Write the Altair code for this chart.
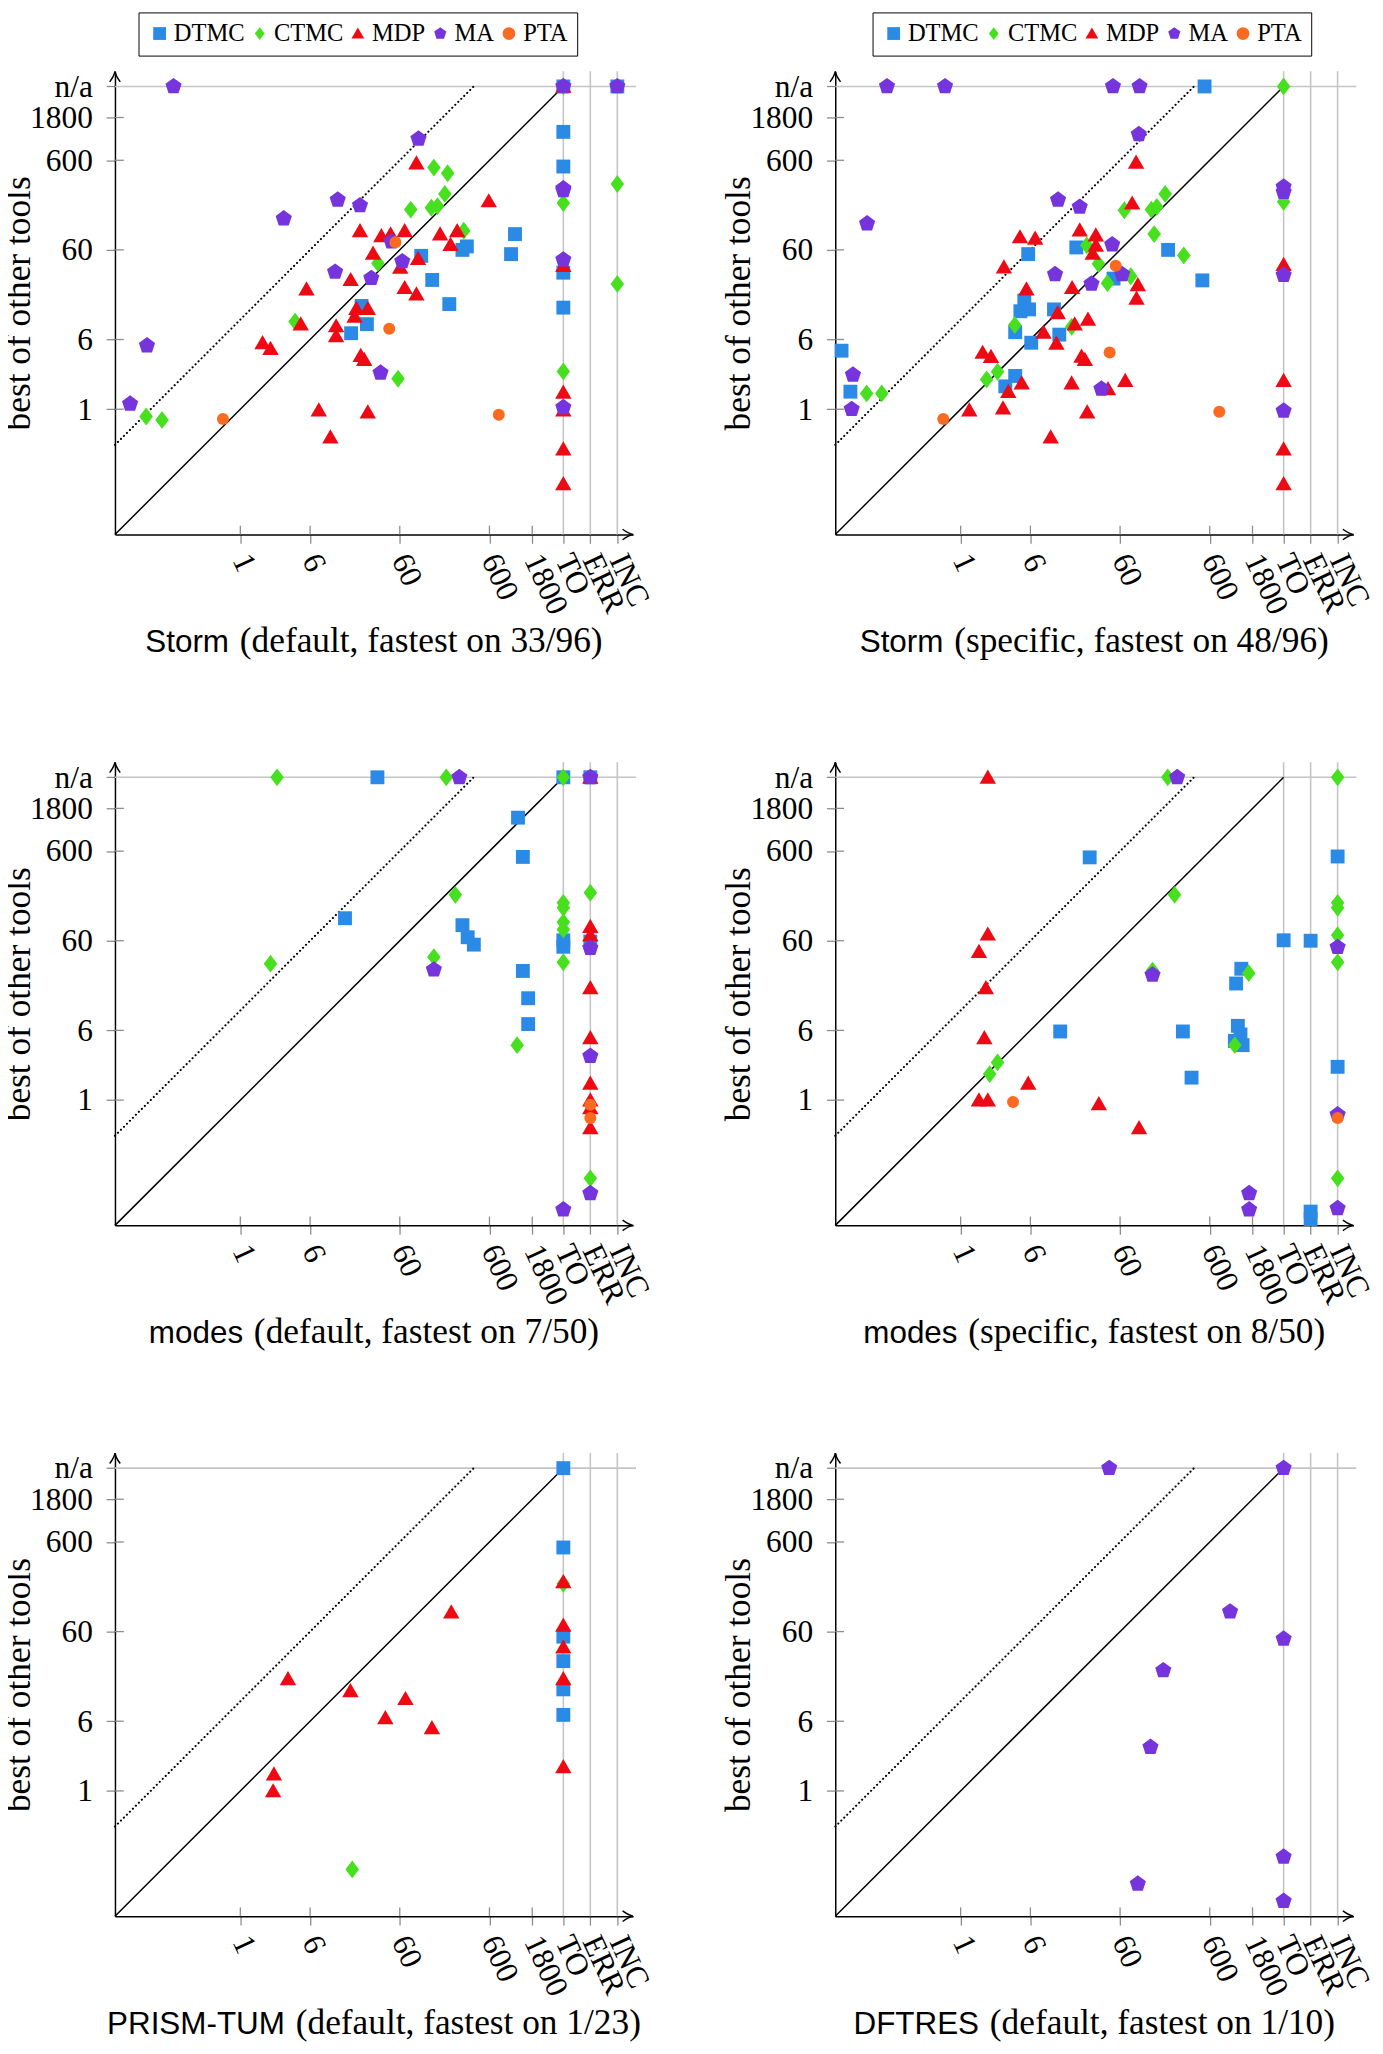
import altair as alt
import pandas as pd

TYPES = ["DTMC", "CTMC", "MDP", "MA", "PTA"]
COLORS = ["#2b8ae6", "#46e01e", "#ee0a14", "#7634dc", "#fa6a20"]

# ---------------- data (seconds; "TO"/"ERR"/"INC" on x, "n/a" on y) ----------------
# Panel 1: Storm (default)
S1_DTMC_X = ["TO", "INC", "TO", "TO", "TO", "TO", 1156, 1045, 336, 300, 104, 138, 214, 22.5, 25.8, 17.2]
S1_DTMC_Y = ["n/a", "n/a", 1245, 511, 33.4, 13.6, 90, 53.8, 65.6, 60, 51.5, 27.7, 14.9, 14.2, 8.9, 7.05]
S1_CTMC_X = [144, 205, 191, 79.5, 135, 158, 310, 34.2, 4.08, 57.4, 0.089, 0.134, "TO", "TO", "TO", "INC", "INC"]
S1_CTMC_Y = [497, 430, 253, 169, 177, 185, 98, 42.6, 9.5, 2.19, 0.83, 0.76, "n/a", 200, 2.64, 326, 25]
S1_MDP_X = [92, 589, 21.6, 37.4, 47.4, 68, 169, 262, 221, 30.2, 60.7, 96, 17, 5.47, 68, 92, 19.7, 26.4,
            18.8, 4.72, 11.7, 11.7, 1.77, 2.17, 22, 24.1, 7.5, 26.4, 10.1, "TO", "TO", "TO", "TO", "TO", "TO"]
S1_MDP_Y = [559, 211, 98, 86, 90, 98, 90, 98, 68.7, 54.8, 38.3, 47.9, 27.9, 21.9, 22.7, 19.3, 13.3, 13.3,
            10.9, 8.9, 8.5, 6.6, 5.5, 4.74, 3.96, 3.59, 0.98, 0.93, 0.49, "n/a", 40, 1.54, 0.98, 0.36, 0.147]
S1_MA_X = [0.18, "TO", "INC", 97, 12.2, 21.6, 3.05, 48.5, 64, 11.4, 28.9, 0.091, 0.059, 36.6, "TO", "TO", "TO", "TO"]
S1_MA_Y = ["n/a", "n/a", "n/a", 1040, 217, 188, 134, 74, 44.6, 34, 29, 5.14, 1.15, 2.55, 290, 276, 46.7, 1.05]
S1_PTA_X = [53.6, 45.8, 0.64, 763]
S1_PTA_Y = [73, 7.9, 0.78, 0.87]

# Panel 2: Storm (specific)
S2_DTMC_X = [525, 0.047, 0.059, 19.5, 5.67, 206, 496, 50.7, 5.13, 4.64, 5.8, 11, 4.06, 12.6, 6.13, 4.06, 3.15]
S2_DTMC_Y = ["n/a", 4.5, 1.57, 63.9, 53.8, 60, 27.4, 28.7, 16.3, 12.4, 13, 13, 7.24, 6.8, 5.52, 2.35, 1.8]
S2_CTMC_X = ["TO", "TO", 191, 67, 134, 154, 144, 25.5, 34.4, 308, 79, 43.4, 17.3, 4.02, 1.95, 2.58, 0.0895, 0.132]
S2_CTMC_Y = ["n/a", 206, 253, 166, 169, 181, 90, 67.4, 41.9, 52, 30.5, 25.5, 8.3, 8.7, 2.15, 2.62, 1.5, 1.5]
S2_MDP_X = [90.5, 81.9, 21.3, 32.2, 32.2, 29.7, 4.59, 6.78, 3.04, 5.42, 17.5, 94.6, 91.5, 12.1, 26.3, 18.7,
            8.4, 11.7, 1.76, 2.18, 22.3, 24.3, 4.8, 3.4, 17.3, 68.5, 44, 1.25, 2.97, 25.8, 10.1,
            "TO", "TO", "TO", "TO"]
S2_MDP_Y = [569, 199, 100, 88, 67.4, 54.8, 83.7, 80.7, 38.6, 21.9, 22.7, 24.4, 17.3, 11.9, 10.1, 8.9,
            7.2, 5.43, 4.3, 3.86, 3.89, 3.59, 1.96, 1.57, 1.96, 2.09, 1.69, 0.98, 1.03, 0.93, 0.49,
            41.1, 2.09, 0.36, 0.147]
S2_MA_X = [0.151, 0.67, 50, 99, 97, 12.2, 21.3, 0.0905, 49, 11.3, 28.8, 63.4, 37.2, 0.063, 0.061, "TO", "TO", "TO", "TO"]
S2_MA_Y = ["n/a", "n/a", "n/a", "n/a", 1169, 217, 181, 118, 68.7, 32, 25.1, 32, 1.69, 2.42, 1, 303, 265, 31.4, 0.96]
S2_PTA_X = [53.6, 45.9, 0.64, 766]
S2_PTA_Y = [40, 4.3, 0.78, 0.94]

# Panel 3: modes (default)
M1_DTMC_X = [33.8, "TO", "ERR", 14.7, 1250, 1415, 300, 343, 402, 1415, 1622, 1622, "TO", "TO", "ERR"]
M1_DTMC_Y = ["n/a", "n/a", "n/a", 107, 1418, 517, 89.5, 65.6, 54.3, 27.6, 13.7, 7.05, 60.7, 51.4, 58.7]
M1_CTMC_X = [2.57, 198, "TO", 2.17, 144, 250, 1222, "TO", "TO", "TO", "TO", "TO", "ERR", "ERR"]
M1_CTMC_Y = ["n/a", "n/a", "n/a", 33.3, 39.4, 195, 4.1, 159, 140, 97, 80, 34.5, 206, 0.134]
M1_MDP_X = ["ERR", "ERR", "ERR", "ERR", "ERR", "ERR", "ERR", "ERR", "ERR"]
M1_MDP_Y = ["n/a", 86.5, 69.3, 17.9, 4.94, 1.54, 1, 0.82, 0.49]
M1_MA_X = [277, "ERR", 144, "ERR", "ERR", "ERR", "TO"]
M1_MA_Y = ["n/a", "n/a", 28.5, 49.7, 3.1, 0.091, 0.06]
M1_PTA_X = ["ERR", "ERR"]
M1_PTA_Y = [0.885, 0.63]

# Panel 4: modes (specific)
M2_DTMC_X = [27.5, 12.9, 301, 376, 1349, 1181, 1235, 1321, 1143, 1396, "TO", "ERR", "ERR", "ERR", "INC", "INC"]
M2_DTMC_Y = [511, 5.83, 5.83, 1.78, 29.2, 20, 6.74, 5.4, 4.57, 4.1, 60.7, 60, 0.057, 0.047, 523, 2.35]
M2_CTMC_X = [204, "INC", 243, 138, 1632, 1143, 2.58, 2.11, "INC", "INC", "INC", "INC", "INC"]
M2_CTMC_Y = ["n/a", "n/a", 195, 27.9, 26.1, 4.1, 2.63, 1.95, 159, 140, 69.3, 34.5, 0.134]
M2_MDP_X = [2.01, 2.01, 1.6, 1.91, 1.84, 5.67, 1.6, 2.01, 34.8, 97.7]
M2_MDP_Y = ["n/a", 71, 45.5, 17.9, 4.94, 1.54, 1, 1, 0.91, 0.49]
M2_MA_X = [260, 138, 1650, 1650, "INC", "INC", "INC"]
M2_MA_Y = ["n/a", 25, 0.091, 0.06, 50.8, 0.69, 0.062]
M2_PTA_X = [3.84, "INC"]
M2_PTA_Y = [0.95, 0.63]

# Panel 5: PRISM-TUM (default)
P_DTMC_X = ["TO", "TO", "TO", "TO", "TO", "TO"]
P_DTMC_Y = ["n/a", 521, 52.7, 28.1, 13.6, 7.06]
P_CTMC_X = [17.7, "TO"]
P_CTMC_Y = [0.133, 205]
P_MDP_X = [2.37, 2.32, 3.4, 16.9, 41.4, 69.4, 137, 225, "TO", "TO", "TO", "TO", "TO"]
P_MDP_Y = [1.54, 1, 17.8, 13.1, 6.55, 10.7, 5.05, 99, 216, 70.6, 40.2, 17.8, 1.86]

# Panel 6: DFTRES (default)
D_MA_X = [45.4, "TO", 1011, "TO", 182, 131, "TO", 94.6, "TO"]
D_MA_Y = ["n/a", "n/a", 100, 49.9, 22.1, 3.09, 0.184, 0.092, 0.059]

X_TICKS = [1, 6, 60, 600, 1800, "TO", "ERR", "INC"]
Y_TICKS = [1, 6, 60, 600, 1800, "n/a"]

# ---------------- layout / style ----------------
SPECIAL = {"TO": 4000.0, "ERR": 8000.0, "INC": 16000.0, "n/a": 4000.0}
W, H = 528, 472
SERIF = "Liberation Serif"
SANS = "Liberation Sans"

DIAMOND = "M0,-1L0.76,0L0,1L-0.76,0Z"
TRIANGLE = "M0,-0.95L1,0.78L-1,0.78Z"
PENTAGON = "M0,-1L0.951,-0.309L0.588,0.809L-0.588,0.809L-0.951,-0.309Z"
SHAPES = ["square", DIAMOND, TRIANGLE, PENTAGON, "circle"]
SIZES = {"DTMC": 200, "CTMC": 330, "MDP": 280, "MA": 300, "PTA": 150}

ARROW_UP = "M-0.45,0.9Q-0.05,0.35,0,0Q0.05,0.35,0.45,0.9"
ARROW_RIGHT = "M-0.9,-0.45Q-0.35,-0.05,0,0Q-0.35,0.05,-0.9,0.45"

TIMES_W = {'(': .333, ')': .333, ',': .25, ' ': .25, '/': .278, 'a': .444, 'c': .444, 'd': .5,
           'e': .444, 'f': .333, 'i': .278, 'l': .278, 'n': .5, 'o': .5, 'p': .5, 's': .389,
           't': .278, 'u': .5}
ARIAL_W = {'S': .667, 't': .278, 'o': .556, 'r': .333, 'm': .833, 'd': .556, 'e': .556, 's': .5,
           'P': .667, 'R': .722, 'I': .278, 'M': .833, '-': .333, 'T': .611, 'U': .722, 'D': .722,
           'F': .611, 'E': .667}

SANS_SIZE = 32
SERIF_TITLE_SIZE = 36


def text_w(s, table, size):
    return sum(table.get(c, 0.5) for c in s) * size


def pos(v):
    return SPECIAL[v] if isinstance(v, str) else float(v)


XS = alt.Scale(type="log", domain=[0.04, 24000], nice=False)
YS = alt.Scale(type="log", domain=[0.04, 5900], nice=False)

XAXIS = alt.Axis(
    values=[pos(v) for v in X_TICKS],
    labelExpr="datum.value > 12000 ? 'INC' : datum.value > 6000 ? 'ERR' : datum.value > 3000 ? 'TO' : format(datum.value, 'd')",
    labelAngle=65, labelAlign="left", labelBaseline="middle", labelFont=SERIF, labelFontSize=32,
    labelColor="black", labelPadding=12, labelOverlap=False, labelFlush=False,
    tickSize=9, tickColor="#8c8c8c", tickWidth=1.3, domainColor="black", domainWidth=1.5,
    grid=False, title=None,
)
YAXIS = alt.Axis(
    values=[pos(v) for v in Y_TICKS],
    labelExpr="datum.value > 3000 ? 'n/a' : format(datum.value, 'd')",
    labelFont=SERIF, labelFontSize=32, labelColor="black", labelPadding=14, labelOverlap=False,
    labelFlush=False, tickSize=9, tickColor="#8c8c8c", tickWidth=1.3, domainColor="black",
    domainWidth=1.5, grid=False, title="best of other tools", titleFont=SERIF, titleFontSize=36,
    titleFontWeight="normal", titleColor="black", titleX=-87, titleY=H / 2, titleAngle=270,
    titleAlign="center", titleBaseline="alphabetic",
)


def xenc(field):
    return alt.X(field, type="quantitative", scale=XS, axis=XAXIS)


def yenc(field):
    return alt.Y(field, type="quantitative", scale=YS, axis=YAXIS)


def frame(series):
    rows = []
    for t, xs, ys in series:
        for a, b in zip(xs, ys):
            rows.append({"x": pos(a), "y": pos(b), "type": t, "sz": SIZES[t]})
    return pd.DataFrame(rows)


def panel(series, tool, rest, legend_x=None):
    df = frame(series)
    leg = None
    if legend_x is not None:
        leg = alt.Legend(orient="none", legendX=legend_x, legendY=-60, direction="horizontal", columns=5,
                         title=None, labelFont=SERIF, labelFontSize=25, labelColor="black",
                         symbolSize=170, symbolStrokeWidth=0, symbolOpacity=1, strokeColor="black",
                         fillColor="white", padding=9, columnPadding=2, labelOffset=2, labelLimit=0,
                         gridAlign="none")
    color = alt.Color("type:N", scale=alt.Scale(domain=TYPES, range=COLORS), legend=leg)
    shape = alt.Shape("type:N", scale=alt.Scale(domain=TYPES, range=SHAPES), legend=leg)

    vgrid = alt.Chart(pd.DataFrame({"v": [pos(v) for v in ["TO", "ERR", "INC"]]})).mark_rule(
        color="#c4c4c4", strokeWidth=1.6).encode(x=xenc("v"), y=alt.value(0), y2=alt.value(H))
    hgrid = alt.Chart(pd.DataFrame({"v": [pos("n/a")]})).mark_rule(
        color="#c4c4c4", strokeWidth=1.6).encode(y=yenc("v"), x=alt.value(0), x2=alt.value(W + 3))
    xin = alt.Chart(pd.DataFrame({"v": [float(v) for v in X_TICKS if not isinstance(v, str)]})).mark_rule(
        color="#8c8c8c", strokeWidth=1.3).encode(x=xenc("v"), y=alt.value(H - 9), y2=alt.value(H))
    yin = alt.Chart(pd.DataFrame({"v": [float(v) for v in Y_TICKS if not isinstance(v, str)]})).mark_rule(
        color="#8c8c8c", strokeWidth=1.3).encode(y=yenc("v"), x=alt.value(0), x2=alt.value(9))
    diag = alt.Chart(pd.DataFrame({"a": [0.04, pos("TO")], "b": [0.04, pos("n/a")]})).mark_line(
        color="black", strokeWidth=1.5).encode(x=xenc("a"), y=yenc("b"))
    dotted = alt.Chart(pd.DataFrame({"a": [0.04, pos("n/a") / 10], "b": [0.4, pos("n/a")]})).mark_line(
        color="black", strokeWidth=2.1, strokeDash=[0.1, 4.2], strokeCap="round").encode(
        x=xenc("a"), y=yenc("b"))
    pts = alt.Chart(df).mark_point(filled=True, opacity=1, strokeWidth=0).encode(
        x=xenc("x"), y=yenc("y"), color=color, shape=shape, size=alt.Size("sz:Q", scale=None))
    one = pd.DataFrame({"k": [0]})
    arr_up = alt.Chart(one).mark_point(shape=ARROW_UP, size=566, filled=False, color="black",
                                       strokeWidth=1.5, opacity=1).encode(x=alt.value(0), y=alt.value(0))
    arr_rt = alt.Chart(one).mark_point(shape=ARROW_RIGHT, size=566, filled=False, color="black",
                                       strokeWidth=1.5, opacity=1).encode(x=alt.value(W), y=alt.value(H))
    ws = text_w(tool, ARIAL_W, SANS_SIZE)
    wr = text_w(rest, TIMES_W, SERIF_TITLE_SIZE)
    gap = 11
    left = W / 2 - (ws + gap + wr) / 2
    t1 = alt.Chart(one).mark_text(font=SANS, fontSize=SANS_SIZE, align="right", baseline="alphabetic",
                                  color="black", text=tool).encode(x=alt.value(left + ws), y=alt.value(H + 120))
    t2 = alt.Chart(one).mark_text(font=SERIF, fontSize=SERIF_TITLE_SIZE, align="left", baseline="alphabetic",
                                  color="black", text=rest).encode(x=alt.value(left + ws + gap), y=alt.value(H + 120))
    return alt.layer(vgrid, hgrid, xin, yin, diag, dotted, pts, arr_up, arr_rt, t1, t2).properties(
        width=W, height=H)


p1 = panel([("DTMC", S1_DTMC_X, S1_DTMC_Y), ("CTMC", S1_CTMC_X, S1_CTMC_Y), ("MDP", S1_MDP_X, S1_MDP_Y),
            ("MA", S1_MA_X, S1_MA_Y), ("PTA", S1_PTA_X, S1_PTA_Y)],
           "Storm", "(default, fastest on 33/96)", legend_x=24)
p2 = panel([("DTMC", S2_DTMC_X, S2_DTMC_Y), ("CTMC", S2_CTMC_X, S2_CTMC_Y), ("MDP", S2_MDP_X, S2_MDP_Y),
            ("MA", S2_MA_X, S2_MA_Y), ("PTA", S2_PTA_X, S2_PTA_Y)],
           "Storm", "(specific, fastest on 48/96)", legend_x=38)
p3 = panel([("DTMC", M1_DTMC_X, M1_DTMC_Y), ("CTMC", M1_CTMC_X, M1_CTMC_Y), ("MDP", M1_MDP_X, M1_MDP_Y),
            ("MA", M1_MA_X, M1_MA_Y), ("PTA", M1_PTA_X, M1_PTA_Y)],
           "modes", "(default, fastest on 7/50)")
p4 = panel([("DTMC", M2_DTMC_X, M2_DTMC_Y), ("CTMC", M2_CTMC_X, M2_CTMC_Y), ("MDP", M2_MDP_X, M2_MDP_Y),
            ("MA", M2_MA_X, M2_MA_Y), ("PTA", M2_PTA_X, M2_PTA_Y)],
           "modes", "(specific, fastest on 8/50)")
p5 = panel([("DTMC", P_DTMC_X, P_DTMC_Y), ("CTMC", P_CTMC_X, P_CTMC_Y), ("MDP", P_MDP_X, P_MDP_Y)],
           "PRISM-TUM", "(default, fastest on 1/23)")
p6 = panel([("MA", D_MA_X, D_MA_Y)], "DFTRES", "(default, fastest on 1/10)")

chart = alt.concat(p1, p2, p3, p4, p5, p6, columns=2, spacing={"row": 232, "column": 206},
                   bounds="flush").resolve_scale(color="independent", shape="independent").properties(
    padding={"left": -7, "top": -16, "right": 0, "bottom": 0}
).configure(font=SERIF, background="white").configure_view(stroke=None)

chart.save("out.html", embed_options={"renderer": "svg", "actions": False})
